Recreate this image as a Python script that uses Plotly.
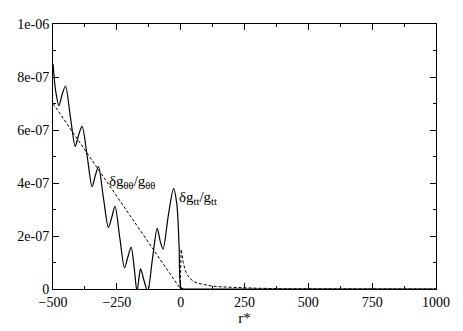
import plotly.graph_objects as go

# solid curve: delta g_tt / g_tt (values in units of 1e-7)
solid_x = [-500, -490, -477, -464, -451, -432, -413, -400, -386, -366, -347, -335, -322,
           -302, -283, -270, -257, -238, -220, -207, -194, -182, -171, -163, -157, -143,
           -129, -111, -92, -80, -69, -48, -28, -15, -6, 1, 10, 30, 1000]
solid_y = [8.5, 7.5, 6.92, 7.35, 7.66, 6.5, 5.38, 5.8, 6.14, 5.0, 3.86, 4.25, 4.62,
           3.4, 2.32, 2.7, 3.12, 1.9, 0.8, 1.2, 1.58, 0.8, -0.1, 0.45, 0.76, 0.3,
           -0.1, 1.1, 2.29, 1.8, 1.5, 2.8, 3.79, 3.2, 1.6, 0.05, 0.0, 0.0, 0.0]

# dashed curve: delta g_thetatheta / g_thetatheta (units of 1e-7)
dash_x = [-500, -2, 2, 5, 10, 18, 27, 37, 52, 70, 95, 122, 160, 193, 250, 300, 400, 1000]
dash_y = [7.0, 0.02, 1.5, 1.3, 1.0, 0.7, 0.52, 0.39, 0.28, 0.21, 0.15, 0.11, 0.08,
          0.06, 0.045, 0.03, 0.01, 0.0]

x_ticks = [-500, -250, 0, 250, 500, 750, 1000]
y_ticks = [0, 2e-7, 4e-7, 6e-7, 8e-7, 1e-6]
y_ticktext = ["0", "2e-07", "4e-07", "6e-07", "8e-07", "1e-06"]

FONT = "Liberation Serif, Times New Roman, Times, serif"

fig = go.Figure()
fig.add_trace(go.Scatter(
    x=solid_x, y=[v * 1e-7 for v in solid_y],
    mode="lines", line=dict(color="black", width=1.2, shape="spline", smoothing=0.8),
    showlegend=False,
))
fig.add_trace(go.Scatter(
    x=dash_x, y=[v * 1e-7 for v in dash_y],
    mode="lines", line=dict(color="black", width=1, dash="3px,2px"),
    showlegend=False,
))

fig.add_annotation(x=-287, y=4.04e-7, xanchor="left", yanchor="middle", showarrow=False,
                   text="δg<sub>θθ</sub>/g<sub>θθ</sub>",
                   font=dict(family=FONT, size=15, color="black"))
fig.add_annotation(x=-14, y=3.42e-7, xanchor="left", yanchor="middle", showarrow=False,
                   text="δg<sub>tt</sub>/g<sub>tt</sub>",
                   font=dict(family=FONT, size=15, color="black"))

axis_common = dict(
    showgrid=False, zeroline=False, showline=True, linecolor="black", linewidth=1,
    mirror="ticks", ticks="inside", tickcolor="black", ticklen=6, tickwidth=1,
    tickfont=dict(family=FONT, size=14, color="black"),
)
fig.update_xaxes(
    range=[-500, 1000], tickvals=x_ticks,
    minor=dict(ticks="inside", ticklen=3, dtick=125, tickcolor="black"),
    title=dict(text="r*", font=dict(family=FONT, size=15, color="black"), standoff=0),
    **axis_common,
)
fig.update_yaxes(
    range=[0, 1e-6], tickvals=y_ticks, ticktext=y_ticktext,
    minor=dict(ticks="inside", ticklen=3, dtick=1e-7, tickcolor="black"),
    **axis_common,
)
# page body adds an 8px offset, so the figure is sized to fit the window
fig.update_layout(
    width=455, height=323,
    margin=dict(l=42, r=27, t=9, b=42),
    paper_bgcolor="white", plot_bgcolor="white",
    font=dict(family=FONT, color="black"),
)
fig.write_html("out.html")
